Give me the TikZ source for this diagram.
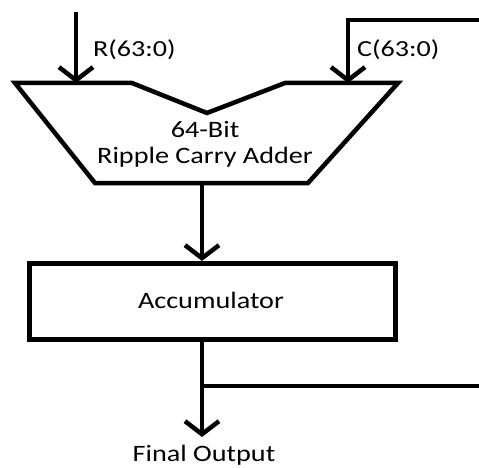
\documentclass[tikz,border=0pt]{standalone}
\usepackage{fontspec}
\setmainfont[FakeStretch=1.2]{Carlito}
\newfontfamily\lblfont[FakeStretch=1.22]{Carlito}
\usetikzlibrary{arrows.meta}
\begin{document}
\begin{tikzpicture}[x=1pt,y=-1pt,
  wire/.style={line width=4.5pt},
  barb/.style={wire,-{Straight Barb[length=13pt,width=34pt,line width=4.5pt]}},
  lbl/.style={font=\lblfont\fontsize{23}{26}\selectfont,inner sep=0pt,anchor=base west},
  big/.style={font=\fontsize{23.5}{26}\selectfont,inner sep=0pt,align=center}]
\useasboundingbox (0,0) rectangle (479,468);
% adder shape
\draw[wire,line join=miter] (15,83) -- (132,83) -- (207,113) -- (285,83) -- (398,83) -- (308,183) -- (95,183) -- cycle;
\node[big] (adder) at (205,144) {64-Bit\\Ripple Carry Adder};
\coordinate (adderR) at (76,83);
\coordinate (adderC) at (348,83);
\coordinate (adderOut) at (202,183);
\coordinate (rin) at (76,12);
\coordinate (cin) at (479,20);
\coordinate (ccorner) at (348,20);
\draw[barb] (rin) -- (adderR);
\draw[barb,line join=miter] (cin) -- (ccorner) -- (adderC);
\node[lbl] (rlab) at (93,57) {R(63:0)};
\node[lbl] (clab) at (357,57) {C(63:0)};
% accumulator
\node[draw,line width=4.5pt,minimum width=366pt,minimum height=76pt,inner sep=0pt] (acc) at (212.5,301.5) {};
\node[big,anchor=base] (acctext) at (211,308) {Accumulator};
\coordinate (accIn) at (202,261);
\draw[barb] (adderOut) -- (accIn);
\coordinate (accOut) at (202,342);
\coordinate (branch) at (202,386);
\coordinate (fb) at (479,386);
\coordinate (outTip) at (202,437);
\draw[barb] (accOut) -- (outTip);
\draw[wire] (branch) -- (fb);
\node[big,anchor=base] (final) at (204,461) {Final Output};
\end{tikzpicture}
\end{document}
